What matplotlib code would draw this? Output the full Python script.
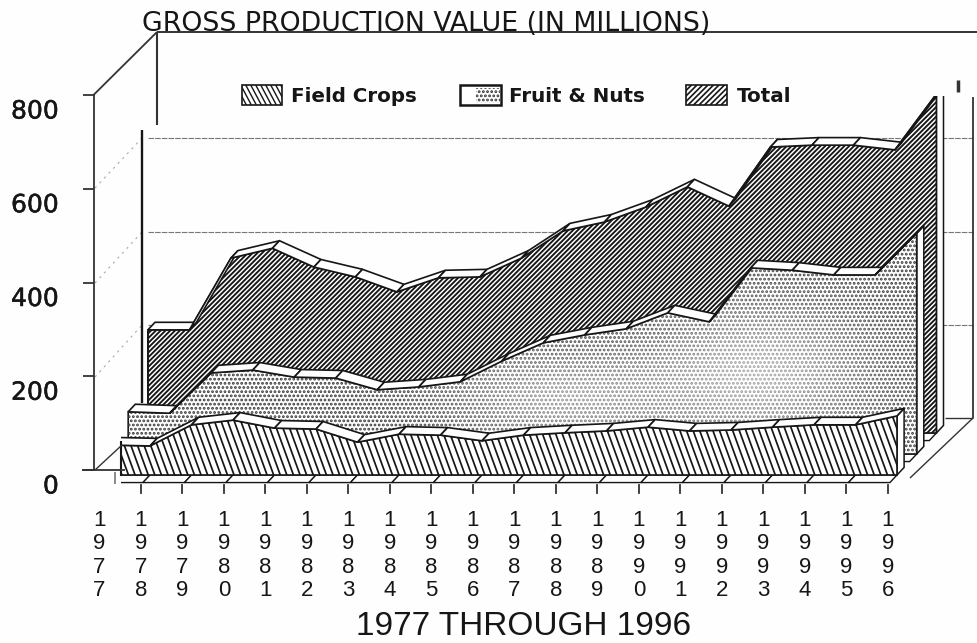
import numpy as np
import matplotlib
matplotlib.use('Agg')
import matplotlib.pyplot as plt
import matplotlib.patheffects as pe
from matplotlib.collections import LineCollection
from matplotlib.patches import Polygon, Rectangle
from matplotlib.transforms import Affine2D, ScaledTranslation

# Values, each series from its own floor
years = list(range(1977, 1997))
field_crops = [64, 62, 107, 117, 100, 98, 70, 87, 85, 73, 85, 90, 94, 102, 94, 96, 102, 107, 107, 126]
fruit_nuts = [90, 87, 173, 179, 164, 162, 137, 143, 154, 198, 237, 254, 267, 301, 282, 397, 392, 382, 382, 471]
total = [220, 220, 373, 394, 354, 333, 301, 331, 333, 373, 431, 450, 482, 525, 484, 610, 614, 614, 604, 723]
value_ticks = [0, 200, 400, 600, 800]

W, H = 977, 643
PER_YEAR = 41.5     # px per year
PER_UNIT = 0.4688   # px per value unit
X0, Y0 = 108.5, 475  # where the front series starts
DEPTH_X = 19.7 / PER_YEAR
DEPTH_Y = 21 / PER_UNIT
BAND = 0.36
INK = '#161616'
PAPER = '#fefefe'
HEAVY = [pe.withStroke(linewidth=0.35, foreground=INK)]

plt.rcParams['font.family'] = ['DejaVu Sans']
plt.rcParams['hatch.linewidth'] = 1.35

fig = plt.figure(figsize=(W / 100, H / 100), dpi=100, facecolor=PAPER)
ax = fig.add_axes([0, 0, 1, 1])
ax.set_xlim(-X0 / PER_YEAR, (W - X0) / PER_YEAR)
ax.set_ylim((Y0 - H) / PER_UNIT, Y0 / PER_UNIT)
ax.axis('off')
ax.autoscale(False)

# image pixels, y going down, for the frame and the legend
px = Affine2D().scale(1, -1).translate(0, H)


def frame(xs, ys, lw=1.3, color='#333333', ls='-', z=0.5):
    ax.plot(xs, ys, transform=px, lw=lw, color=color, ls=ls, zorder=z, solid_capstyle='butt')


def slanted(patch, box, angle, step, lw, z):
    # hatch at any angle: lines over the box, clipped by the patch
    x0, y0, x1, y1 = box
    run = (y1 - y0) / np.tan(np.radians(angle))
    segs = [[(x, y1), (x + run, y0)] for x in np.arange(x0 - abs(run), x1 + abs(run), step)]
    lines = LineCollection(segs, colors=INK, linewidths=lw, transform=px, zorder=z)
    ax.add_collection(lines)
    lines.set_clip_path(patch)


def draw_layer(values, depth, z, fill):
    k = np.arange(len(values)) + depth * DEPTH_X
    top = np.array(values) + depth * DEPTH_Y
    base = depth * DEPTH_Y
    bx, by = BAND * DEPTH_X, BAND * DEPTH_Y

    # floor strip in front of the layer
    for i in range(len(k) - 1):
        strip = [(k[i], base), (k[i + 1], base), (k[i + 1] - bx, base - by), (k[i] - bx, base - by)]
        ax.add_patch(Polygon(strip, fc='white', ec=INK, lw=1.0, zorder=z))

    # right hand side of the layer
    side = [(k[-1], base), (k[-1], top[-1]), (k[-1] + bx, top[-1] + by), (k[-1] + bx, base + by)]
    ax.add_patch(Polygon(side, fc='white', ec=INK, lw=1.1, zorder=z))

    face_pts = [(k[0], base)] + list(zip(k, top)) + [(k[-1], base)]
    face = Polygon(face_pts, fc='white', ec=INK, lw=1.2, zorder=z + 0.1)
    ax.add_patch(face)
    fill(face, z + 0.2)

    for i in range(len(k) - 1):
        quad = [(k[i], top[i]), (k[i + 1], top[i + 1]),
                (k[i + 1] + bx, top[i + 1] + by), (k[i] + bx, top[i] + by)]
        ax.add_patch(Polygon(quad, fc='white', ec=INK, lw=1.2, zorder=z + 0.3))


def fill_total(face, z):
    slanted(face, (100, 60, 960, 480), 45, 4.8, 1.35, z)


def fill_fruit(face, z):
    dots = Polygon(face.get_xy(), fc='none', ec='#3a3a3a', lw=0, hatch='....', zorder=z)
    ax.add_patch(dots)
    # the scan has washed out the middle of this area, softly
    gx, gy = np.meshgrid(np.arange(0, W, 4), np.arange(0, H, 4))
    fade = (0.55 * np.exp(-((gx - 760) / 110) ** 2 - ((gy - 370) / 70) ** 2)
            + 0.45 * np.exp(-((gx - 560) / 110) ** 2 - ((gy - 395) / 45) ** 2))
    rgba = np.ones(gx.shape + (4,))
    rgba[..., 3] = np.clip(fade, 0, 0.7)
    wash = ax.imshow(rgba, extent=(0, W, H, 0), transform=px, aspect='auto',
                     interpolation='bilinear', zorder=z + 0.05)
    wash.set_clip_path(face)


def fill_field(face, z):
    slanted(face, (100, 400, 920, 480), 110, 6.6, 1.25, z)


# back wall and its grid
for y, y_left in [(138, 188), (232, 283), (325, 377)]:
    frame([148, 973], [y, y], lw=0.8, color='#777777', ls=(0, (5, 1)), z=0.3)
    frame([95, 142], [y_left, y], lw=0.8, color='#aaaaaa', ls=(0, (2, 4)), z=0.3)
frame([93.5, 157], [95, 32])
frame([157, 157], [32, 125], lw=1.5)
frame([157, W], [32, 32], lw=1.4)
frame([142, 142], [130, 403], lw=1.7, color=INK)
frame([973, 973], [97, 418], lw=1.3)
frame([945, 973], [418, 418], lw=1.0)
frame([973, 910], [418, 478], lw=1.0)
frame([958, 958], [80, 92], lw=2.5)
frame([148, 148], [331, 403], lw=1.2, color=INK, z=2.5)

draw_layer(total, 2, 1, fill_total)
draw_layer(fruit_nuts, 1, 3, fill_fruit)
draw_layer(field_crops, 0, 5, fill_field)

# the strip of the back layer stops at the top of the picture area
ax.add_patch(Rectangle((930, 75), 22, 21, fc=PAPER, ec='none', transform=px, zorder=7))

# the corner in front is blank, the front layer is cut off there
ax.add_patch(Rectangle((97, 430), 24, 62, fc=PAPER, ec='none', transform=px, zorder=7))
frame([121, 121], [441, 476], lw=1.5, color=INK, z=7.1)
frame([95, 122], [470, 445], lw=1.0, z=7.1)
frame([82, 125], [470, 470], lw=1.3, z=7.1)
frame([115, 115], [472, 484], lw=1.2, color='#777777', z=7.1)

# value axis
ay = fig.add_axes([93.5 / W, 1 - 470 / H, 0.002, 375 / H])
ay.patch.set_alpha(0)
for side in ['top', 'right', 'bottom']:
    ay.spines[side].set_visible(False)
ay.spines['left'].set_linewidth(1.3)
ay.spines['left'].set_color('#333333')
ay.set_ylim(0, 800)
ay.set_xticks([])
ay.set_yticks(value_ticks)
ay.set_yticklabels([str(v) for v in value_ticks], fontsize=18, color=INK, path_effects=HEAVY)
ay.tick_params(axis='y', length=8, width=1.3, color='#333333', pad=17)
shift = ScaledTranslation(0, -14 / 100, fig.dpi_scale_trans)
for lab in ay.get_yticklabels():
    lab.set_transform(lab.get_transform() + shift)

# year ticks and stacked labels
tick_x = np.arange(len(years)) - 0.46 * DEPTH_X
tick_y = -0.46 * DEPTH_Y
for i, (x, yr) in enumerate(zip(tick_x, years)):
    if i > 0:
        ax.plot([x, x], [tick_y, tick_y - 8 / PER_UNIT], color='#333333', lw=1.3, zorder=6)
    ax.text(x, tick_y - 71 / PER_UNIT, '\n'.join(str(yr)), family='Liberation Sans', ha='center', va='center',
            fontsize=16, linespacing=1.16, color=INK)

txt = dict(transform=px, color=INK, zorder=8)
ax.text(142, 31, 'GROSS PRODUCTION VALUE (IN MILLIONS)', fontsize=19.3, va='baseline', **txt)
ax.text(524, 635, '1977 THROUGH 1996', family='Liberation Sans', fontsize=24,
        ha='center', va='baseline', **txt)

# legend
sw = Rectangle((242, 85), 40, 20, fc='white', ec=INK, lw=1.2, transform=px, zorder=8)
ax.add_patch(sw)
slanted(sw, (242, 85, 282, 105), 118, 5, 1.0, 8.1)
sw = Rectangle((460, 85), 41, 20, fc='white', ec=INK, lw=1.8, transform=px, zorder=8)
ax.add_patch(sw)
ax.add_patch(Rectangle((476, 88), 24, 15, fc='none', ec='#333333', lw=0, hatch='....', transform=px, zorder=8.1))
sw = Rectangle((686, 85), 41, 20, fc='white', ec=INK, lw=1.2, transform=px, zorder=8)
ax.add_patch(sw)
slanted(sw, (686, 85, 727, 105), 45, 5.5, 1.2, 8.1)
for x, label in [(291, 'Field Crops'), (509, 'Fruit & Nuts'), (737, 'Total')]:
    ax.text(x, 96, label, weight='bold', fontsize=14.3, va='center', **txt)

fig.savefig('out.png', dpi=100, facecolor=fig.get_facecolor())
